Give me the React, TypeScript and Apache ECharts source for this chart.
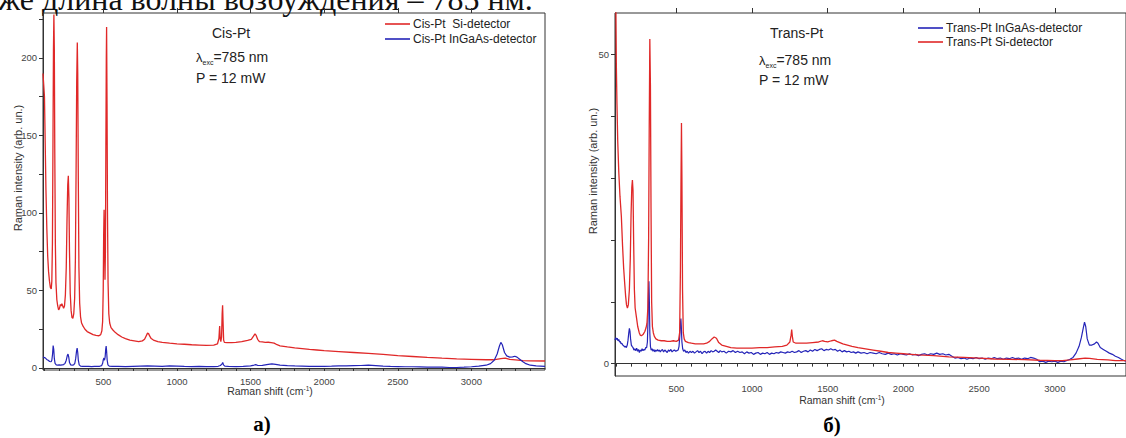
import React, { useEffect, useRef } from "react";
import * as echarts from "echarts";

// ---------- data (Raman shift cm-1, intensity arb. un.) ----------
const cisSi: [number, number][] = [
  [90,190],[100,175],[105,145],[110,115],[116,90],[122,72],[128,62],[134,56],[140,52],[146,51],[150,56],[154,80],[158,150],[161,205],[164,228],[167,205],[170,140],[174,80],[178,55],[184,44],[190,40],[196,37.5],[202,38.5],[208,41],[213,40],[218,41.5],[224,40],[230,38.5],[236,40],[242,47],[248,65],[253,95],[258,118],[262,124],[266,110],[270,75],[275,48],[281,37],[287,32.5],[293,32],[299,35],[305,45],[310,70],[315,130],[319,185],[323,210],[326,190],[330,120],[334,65],[339,42],[345,33],[352,29],[362,27],[375,25],[390,23.5],[410,22.5],[430,21.5],[450,21],[470,20.8],[482,21.5],[490,24],[495,30],[499,50],[502,85],[505,102],[508,80],[511,57],[514,75],[517,140],[520,200],[522,220],[525,170],[528,100],[532,55],[537,35],[543,29],[552,26],[565,24.5],[580,23],[600,21.5],[625,20],[650,19],[680,18],[710,17.5],[740,17],[765,17.5],[780,18.5],[790,20.5],[800,22.5],[808,22],[815,20.5],[825,19],[840,18],[870,17],[900,16.5],[950,16],[1000,15.6],[1050,15.3],[1100,15],[1150,14.8],[1200,14.6],[1250,14.8],[1275,15.5],[1285,19],[1290,27],[1294,19],[1298,17],[1303,20],[1307,35],[1310,40.5],[1313,30],[1317,18],[1322,16.5],[1340,16.3],[1370,16.3],[1400,16.5],[1440,17],[1480,17.8],[1505,18.5],[1520,20.5],[1530,22],[1538,21],[1548,18.5],[1560,17],[1580,16.8],[1600,16.5],[1620,16.6],[1640,16.4],[1660,16],[1680,15],[1700,14.3],[1750,13.6],[1800,13],[1850,12.5],[1900,12],[1950,11.6],[2000,11.2],[2100,10.6],[2200,10],[2300,9.4],[2400,8.8],[2500,8],[2600,7.4],[2700,6.8],[2800,6.3],[2900,5.9],[3000,5.6],[3100,5.3],[3150,5.3],[3200,6],[3230,6.3],[3260,5.5],[3300,5.2],[3350,4.8],[3400,4.6],[3500,4.5]
];

const cisInGaAs: [number, number][] = [
  [90,7],[105,6.5],[115,5.5],[125,5],[135,4.2],[145,4],[150,5],[155,9],[159,14.5],[163,12],[167,6],[172,3],[180,2],[190,1.8],[200,2],[210,1.8],[220,2],[230,2.2],[240,3],[248,5],[255,8],[260,9],[265,7],[270,3.5],[278,2],[288,1.8],[298,2],[306,3],[312,6],[318,11],[322,12.8],[326,10],[330,5],[336,2],[345,1.2],[360,1],[380,1],[400,1.1],[420,0.9],[440,1],[460,1],[475,1.1],[488,1.5],[495,3],[500,5.5],[504,6.5],[508,5],[512,7],[516,12],[519,14.2],[522,11],[526,5],[531,2],[540,1.2],[560,1],[600,1],[650,0.9],[700,1.1],[750,1.2],[800,1.3],[850,1.2],[900,1.1],[950,1.3],[1000,1.2],[1050,1],[1100,0.9],[1150,1],[1200,0.9],[1250,0.9],[1280,1.1],[1295,1.6],[1305,2.5],[1311,3.6],[1316,2],[1325,1.2],[1350,1],[1400,0.9],[1450,1.1],[1500,1.4],[1525,1.9],[1535,2.2],[1550,1.6],[1580,1.7],[1620,2.3],[1645,2.6],[1670,2.3],[1700,1.9],[1750,1.5],[1800,1.3],[1850,1.2],[1900,1.1],[1950,1.1],[2000,1.1],[2050,1.2],[2100,1.4],[2150,1.3],[2200,1.5],[2250,1.6],[2300,1.8],[2350,1.5],[2400,1.2],[2450,1],[2500,0.9],[2550,0.8],[2600,0.8],[2650,0.7],[2700,0.6],[2750,0.6],[2800,0.5],[2850,0.3],[2900,0.3],[2950,0.5],[3000,0.8],[3050,1.2],[3100,1.8],[3130,2.8],[3155,5],[3175,9],[3190,14],[3200,16.5],[3210,15],[3225,10],[3240,7.8],[3260,7],[3280,7.2],[3295,7.6],[3310,7],[3330,5.5],[3350,4],[3370,2.8],[3400,1.8],[3440,1.3],[3500,1]
];

const transSi: [number, number][] = [
  [95,75],[100,60],[104,48],[108,42],[113,36],[120,31],[128,27],[137,23.8],[145,19],[152,15.5],[159,13],[165,11],[171,9.5],[177,9],[183,9.5],[190,12],[196,17],[201,24],[206,28.5],[210,29.7],[214,28],[218,20],[223,12],[228,9],[236,7.6],[245,6],[255,5],[262,4.6],[269,4.5],[280,4.7],[292,5.2],[300,5.8],[306,6.5],[312,9],[317,20],[321,38],[325,52.5],[329,45],[333,25],[337,10],[342,6],[348,5],[355,4.4],[365,4],[380,3.8],[400,3.7],[420,3.7],[440,3.6],[460,3.6],[480,3.7],[500,3.6],[515,3.8],[522,5],[527,15],[531,30],[534,38.9],[537,30],[541,12],[546,5],[552,4],[560,3.6],[580,3.4],[600,3.3],[625,3.2],[650,3.2],[680,3.2],[700,3.3],[720,3.6],[735,4],[750,4.3],[765,4.1],[780,3.4],[800,3],[830,2.8],[860,2.6],[900,2.5],[950,2.5],[1000,2.5],[1050,2.6],[1100,2.6],[1150,2.7],[1200,2.8],[1230,3],[1250,3.5],[1258,4.6],[1262,5.5],[1266,4.5],[1272,3.5],[1290,3.3],[1320,3.3],[1360,3.3],[1400,3.4],[1440,3.5],[1465,3.7],[1480,3.6],[1500,3.5],[1525,3.7],[1545,3.8],[1560,3.6],[1580,3.4],[1600,3.2],[1630,3],[1660,2.8],[1700,2.6],[1750,2.4],[1800,2.2],[1850,2],[1900,1.8],[1950,1.7],[2000,1.6],[2050,1.5],[2100,1.4],[2200,1.3],[2300,1.1],[2400,1],[2500,0.9],[2600,0.75],[2700,0.7],[2800,0.65],[2900,0.55],[3000,0.5],[3050,0.5],[3100,0.6],[3150,0.75],[3200,0.9],[3230,0.85],[3280,0.7],[3350,0.6],[3400,0.5],[3470,0.5]
];

const transInGaAs: [number, number][] = [
  [95,3.8],[100,4.2],[105,3.9],[110,4.1],[115,3.7],[120,3.9],[125,3.5],[130,3.6],[135,3.2],[140,3.3],[146,3.0],[152,2.9],[158,2.7],[164,2.8],[170,2.6],[176,3],[181,3.8],[186,5],[190,5.7],[194,5.2],[198,4],[203,3],[208,2.8],[214,2.6],[220,2.2],[226,2.4],[232,2.1],[238,2.5],[244,2.0],[250,2.3],[256,1.8],[262,2.2],[268,2.0],[274,2.4],[280,2.1],[286,2.3],[292,2.2],[298,2.6],[304,2.6],[309,3.5],[313,7],[316,11],[319,13.3],[322,10],[325,5],[329,2.8],[334,2.2],[340,2.4],[346,2.0],[352,2.3],[358,1.9],[364,2.2],[370,2.0],[376,2.3],[382,2.0],[388,2.2],[394,1.9],[400,2.1],[408,2.3],[416,1.9],[424,2.2],[432,2.0],[440,1.8],[448,2.2],[456,2.0],[464,2.3],[472,1.9],[480,2.1],[488,2.2],[496,2.0],[504,2.1],[512,2.2],[518,2.8],[523,4.5],[527,6.5],[530,7.3],[533,6],[537,3.5],[542,2.4],[548,2.0],[556,2.2],[564,1.8],[572,2.0],[580,1.7],[590,2.0],[600,1.8],[610,2.0],[620,1.7],[630,1.9],[640,2.1],[650,1.8],[660,2.0],[670,1.6],[680,1.9],[690,2.0],[700,1.7],[710,2.0],[720,1.8],[730,2.1],[740,1.9],[750,2.0],[760,2.2],[770,2.0],[780,1.8],[790,2.1],[800,1.9],[815,2.0],[830,1.7],[845,2.0],[860,1.9],[875,2.1],[890,1.8],[905,2.0],[920,1.8],[935,1.9],[950,1.6],[965,1.9],[980,1.7],[995,1.8],[1010,1.5],[1025,1.7],[1040,1.8],[1055,1.5],[1070,1.7],[1085,1.6],[1100,1.8],[1115,1.5],[1130,1.7],[1145,1.6],[1160,1.8],[1175,1.7],[1190,1.9],[1205,1.8],[1220,1.7],[1235,1.9],[1250,1.8],[1265,2.0],[1280,1.8],[1295,1.9],[1310,2.1],[1325,1.8],[1340,2.0],[1355,2.1],[1370,1.9],[1385,2.2],[1400,2.0],[1415,2.3],[1430,2.1],[1445,2.3],[1460,2.4],[1475,2.1],[1490,2.3],[1505,2.2],[1520,2.4],[1535,2.2],[1550,2.3],[1565,2.0],[1580,2.2],[1595,1.9],[1610,2.1],[1625,1.9],[1640,2.0],[1655,1.8],[1670,1.9],[1685,1.7],[1700,1.9],[1720,1.7],[1740,1.8],[1760,1.6],[1780,1.8],[1800,1.7],[1820,1.6],[1840,1.8],[1860,1.6],[1880,1.5],[1900,1.7],[1920,1.5],[1940,1.6],[1960,1.4],[1980,1.6],[2000,1.5],[2020,1.4],[2040,1.6],[2060,1.4],[2080,1.5],[2100,1.3],[2120,1.5],[2140,1.6],[2160,1.4],[2180,1.6],[2200,1.5],[2220,1.7],[2240,1.5],[2260,1.6],[2280,1.4],[2300,1.5],[2320,1.2],[2340,0.9],[2360,1.0],[2380,0.8],[2400,0.9],[2420,0.7],[2440,0.9],[2460,0.8],[2480,1.0],[2500,0.8],[2520,0.9],[2540,0.7],[2560,0.9],[2580,0.8],[2600,1.0],[2620,0.8],[2640,0.9],[2660,0.7],[2680,0.9],[2700,0.8],[2720,1.0],[2740,0.8],[2760,0.9],[2780,0.7],[2800,0.9],[2820,0.8],[2840,1.0],[2860,0.9],[2880,0.7],[2900,0.3],[2920,0.4],[2940,0.2],[2960,0.4],[2980,0.3],[3000,0.4],[3020,0.2],[3040,0.4],[3060,0.3],[3080,0.5],[3100,0.7],[3120,1.0],[3140,1.7],[3160,2.8],[3175,4.2],[3188,5.8],[3196,6.7],[3204,6],[3214,4],[3228,3],[3245,3],[3262,3.2],[3275,3.5],[3285,3.3],[3300,2.6],[3320,2.3],[3340,2.0],[3360,1.7],[3380,1.5],[3400,1.2],[3420,1.0],[3440,0.7],[3455,0.5],[3470,0.4]
];

// ---------- tick labels ----------
const xTickLabels = [500, 1000, 1500, 2000, 2500, 3000];
const xMinorTicks = [100,200,300,400,500,600,700,800,900,1000,1100,1200,1300,1400,1500,1600,1700,1800,1900,2000,2100,2200,2300,2400,2500,2600,2700,2800,2900,3000,3100,3200,3300,3400];
const yLeftLabels = [0, 50, 100, 150, 200];
const yLeftTicks = [0, 25, 50, 75, 100, 125, 150, 175, 200, 225];
const yRightLabels = [0, 50];
const yRightTicks = [0, 10, 20, 30, 40, 50];

const RED = "#e02828";
const BLUE = "#2424b8";
const AX = "#333";
const SANS = "Liberation Sans, Arial, sans-serif";
const SERIF = "Liberation Serif, Times New Roman, serif";

const plain = (v: number) => String(v);

function mainX(grid: number, min: number, max: number, margin: number) {
  return {
    type: "value", gridIndex: grid, min, max,
    axisLine: { lineStyle: { color: AX, width: 1 } },
    axisTick: { customValues: xMinorTicks, length: 3, lineStyle: { color: AX } },
    axisLabel: { customValues: xTickLabels, formatter: plain, fontSize: 9.5, color: "#444", fontFamily: SANS, margin },
    splitLine: { show: false },
  };
}
function majorX(grid: number, min: number, max: number) {
  return {
    type: "value", gridIndex: grid, min, max,
    axisLine: { show: false },
    axisTick: { customValues: xTickLabels, length: 5, lineStyle: { color: AX } },
    axisLabel: { show: false },
    splitLine: { show: false },
  };
}

function txt(x: number, y: number, text: string, fontSize: number, extra: any = {}) {
  return {
    type: "text", x, y, silent: true,
    style: { text, fontSize, fontFamily: SANS, fill: "#222", align: "left", verticalAlign: "middle", ...extra },
  };
}

function lambdaText(x: number, y: number) {
  return {
    type: "text", x, y, silent: true,
    style: {
      text: "{l|λ}{s|exc}{n|=785 nm}",
      align: "left", verticalAlign: "middle", fill: "#222",
      rich: {
        l: { fontSize: 13, fontFamily: SANS, fill: "#222", lineHeight: 18 },
        s: { fontSize: 7, fontFamily: SANS, fill: "#222", lineHeight: 8, verticalAlign: "bottom" },
        n: { fontSize: 14, fontFamily: SANS, fill: "#222", lineHeight: 18 },
      },
    },
  };
}

function xTitle(x: number, y: number) {
  return {
    type: "text", x, y, silent: true,
    style: {
      text: "{a|Raman shift (cm}{b|-1}{a|)}",
      align: "center", verticalAlign: "middle",
      rich: {
        a: { fontSize: 10.5, fontFamily: SANS, fill: "#333", lineHeight: 13 },
        b: { fontSize: 6.5, fontFamily: SANS, fill: "#333", lineHeight: 7, verticalAlign: "top" },
      },
    },
  };
}

function yTitle(x: number, y: number) {
  return {
    type: "text", x, y, rotation: Math.PI / 2, silent: true,
    style: { text: "Raman intensity (arb. un.)", fontSize: 11, fontFamily: SANS, fill: "#333", align: "center", verticalAlign: "middle" },
  };
}

export default function App() {
  const ref = useRef<HTMLDivElement>(null);
  useEffect(() => {
    if (!ref.current) return;
    const chart = echarts.init(ref.current, undefined, { renderer: "svg" });
    const option: any = {
      animation: false,
      backgroundColor: "#fff",
      grid: [
        { left: 43, top: 13, width: 502, height: 357, show: true, borderColor: AX, borderWidth: 1 },
        { left: 615, top: 13, width: 512, height: 363, show: true, borderColor: AX, borderWidth: 1 },
      ],
      xAxis: [mainX(0, 90, 3500, 6), majorX(0, 90, 3500), mainX(1, 95, 3470, 7), majorX(1, 95, 3470)],
      yAxis: [
        {
          type: "value", gridIndex: 0, min: -1.3, max: 229,
          axisLine: { show: true, lineStyle: { color: AX } },
          axisTick: { show: true, customValues: yLeftTicks, length: 4, lineStyle: { color: AX } },
          axisLabel: { customValues: yLeftLabels, formatter: plain, fontSize: 9.5, color: "#444", fontFamily: SANS, margin: 6 },
          splitLine: { show: false },
        },
        {
          type: "value", gridIndex: 1, min: -2, max: 56.7,
          axisLine: { show: true, lineStyle: { color: AX } },
          axisTick: { show: true, customValues: yRightTicks, length: 4, lineStyle: { color: AX } },
          axisLabel: { customValues: yRightLabels, formatter: plain, fontSize: 9.5, color: "#444", fontFamily: SANS, margin: 6 },
          splitLine: { show: false },
        },
      ],
      legend: [
        {
          left: 385, top: 18, orient: "vertical", itemWidth: 25, itemHeight: 1.6, itemGap: 3, icon: "rect",
          padding: 0, selectedMode: false,
          textStyle: { fontSize: 12, color: "#222", fontFamily: SANS, padding: [0, 0, 0, -2] },
          data: ["Cis-Pt  Si-detector", "Cis-Pt InGaAs-detector"],
        },
        {
          left: 918, top: 22, orient: "vertical", itemWidth: 25, itemHeight: 1.6, itemGap: 2, icon: "rect",
          padding: 0, selectedMode: false,
          textStyle: { fontSize: 12, color: "#222", fontFamily: SANS, padding: [0, 0, 0, -2] },
          data: ["Trans-Pt InGaAs-detector", "Trans-Pt Si-detector"],
        },
      ],
      series: [
        { type: "line", name: "Cis-Pt  Si-detector", xAxisIndex: 0, yAxisIndex: 0, data: cisSi, showSymbol: false, symbol: "none", lineStyle: { color: RED, width: 1.3 }, itemStyle: { color: RED } },
        { type: "line", name: "Cis-Pt InGaAs-detector", xAxisIndex: 0, yAxisIndex: 0, data: cisInGaAs, showSymbol: false, symbol: "none", lineStyle: { color: BLUE, width: 1.2 }, itemStyle: { color: BLUE } },
        { type: "line", name: "Trans-Pt InGaAs-detector", xAxisIndex: 2, yAxisIndex: 1, data: transInGaAs, showSymbol: false, symbol: "none", lineStyle: { color: BLUE, width: 1.2 }, itemStyle: { color: BLUE } },
        { type: "line", name: "Trans-Pt Si-detector", xAxisIndex: 2, yAxisIndex: 1, data: transSi, showSymbol: false, symbol: "none", lineStyle: { color: RED, width: 1.3 }, itemStyle: { color: RED } },
      ],
      graphic: [
        txt(-2, -1, "же длина волны возбуждения – 785 нм.", 32, { fontFamily: SERIF, fill: "#111" }),
        // left panel annotations
        txt(212, 33, "Cis-Pt", 14),
        lambdaText(196, 57),
        txt(196, 78, "P = 12 mW", 14),
        yTitle(18, 168),
        xTitle(270, 391),
        txt(262, 424, "а)", 21, { fontFamily: SERIF, fontWeight: "bold", fill: "#000", align: "center" }),
        // right panel annotations
        txt(770, 33, "Trans-Pt", 14),
        lambdaText(759, 60),
        txt(759, 80, "P = 12 mW", 14),
        yTitle(593, 171),
        xTitle(842, 400),
        txt(832, 425, "б)", 21, { fontFamily: SERIF, fontWeight: "bold", fill: "#000", align: "center" }),
      ],
    };
    chart.setOption(option);
    return () => chart.dispose();
  }, []);
  return (
    <div
      ref={ref}
      style={{ position: "fixed", left: 0, top: 0, width: 1126, height: 438, background: "#fff" }}
    />
  );
}
